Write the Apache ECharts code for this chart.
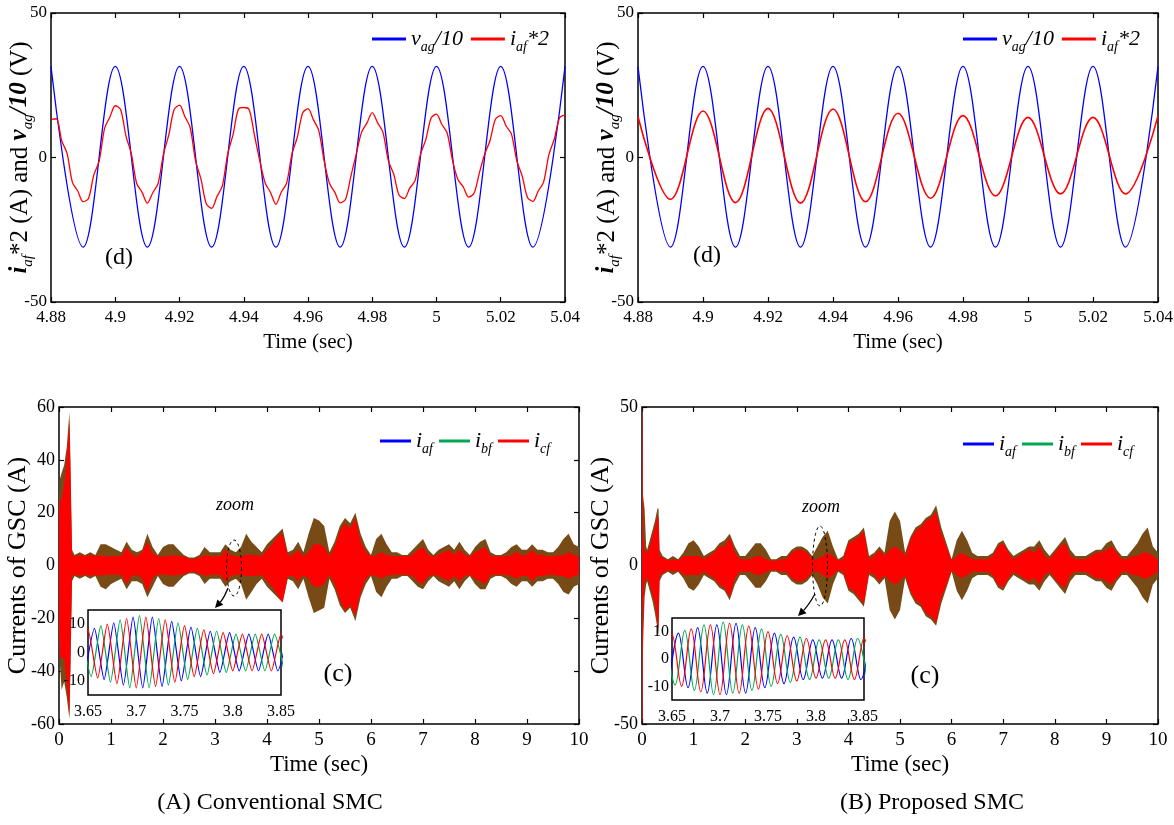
<!DOCTYPE html>
<html>
<head>
<meta charset="utf-8">
<title>GSC currents: conventional vs proposed SMC</title>
<script src="https://cdn.jsdelivr.net/npm/echarts@6/dist/echarts.min.js"></script>
<style>
  html, body { margin: 0; padding: 0; background: #fff; }
  #chart { width: 1174px; height: 825px; }
</style>
</head>
<body>
<div id="chart"></div>
<script>
// ---------------- data ----------------
// (d) panels: grid voltage / 10 and filter current * 2, 4.88 s to 5.04 s (50 Hz).
// Voltage and the smooth current are stored as successive peaks/troughs (every half period).
const topStart = 4.88;
const halfPeriod = 0.01;
const vagConv = [31.5, -31, 31.5, -31, 31.5, -31, 31.5, -31, 31.5, -31, 31.5, -31, 31.5, -31, 31.5, -31, 31.5];
const vagProp = [31.5, -31, 31.5, -31, 31.5, -31, 31.5, -31, 31.5, -31, 31.5, -31, 31.5, -31, 31.5, -31, 31.5];
const iafProp = [14.1, -14.5, 16.1, -15.6, 17.0, -15.8, 16.8, -15.3, 15.3, -14.1, 14.5, -13.3, 13.9, -12.6, 13.9, -12.6, 14.4];
// Conventional SMC current, read every 1/12 of a period (keeps the switching ripple)
const iafConvStep = 0.02 / 12;
const iafConv = [
  13.2, 13.4, 5.8, 1.4, -8.6, -11.6,
  -15.3, -14.2, -6.0, -1.2, 10.0, 14.0,
  17.9, 16.6, 7.5, 1.3, -9.0, -12.0,
  -15.8, -12.2, -9.0, 1.1, 7.8, 16.6,
  18.1, 14.2, 10.3, -1.2, -7.4, -16.0,
  -17.6, -13.5, -9.8, 1.2, 7.9, 16.7,
  17.3, 16.6, 7.7, -1.1, -8.8, -12.1,
  -16.2, -12.0, -8.9, 1.2, 7.0, 15.4,
  16.9, 13.1, 9.4, -1.0, -8.9, -12.0,
  -15.7, -14.5, -6.5, 1.1, 8.7, 11.9,
  15.5, 12.0, 8.7, -1.1, -5.7, -13.0,
  -14.2, -10.6, -8.0, 1.0, 6.2, 13.7,
  15.0, 11.4, 8.4, -1.1, -7.6, -10.2,
  -13.7, -12.4, -5.4, 1.1, 5.9, 13.2,
  14.5, 10.9, 8.1, -1.1, -6.4, -13.8,
  -15.2, -11.6, -8.5, 1.0, 6.4, 13.8,
  14.7
];

// (c) panels: three-phase GSC currents over 0–10 s, drawn as envelopes.
// Outer envelope (all phases) and the red-dominated inner envelope.
const envTimesConv = [0, 0.02, 0.05, 0.1, 0.15, 0.2, 0.22, 0.25,
  0.3, 0.4, 0.5, 0.6, 0.7, 0.8, 0.9, 1.0, 1.1, 1.2,
  1.3, 1.4, 1.5, 1.6, 1.7, 1.8, 1.9, 2.0, 2.1, 2.2,
  2.3, 2.4, 2.5, 2.6, 2.7, 2.8, 2.9, 3.0, 3.1, 3.2,
  3.3, 3.4, 3.5, 3.6, 3.7, 3.8, 3.9, 4.0, 4.1, 4.2,
  4.3, 4.4, 4.5, 4.6, 4.7, 4.8, 4.9, 5.0, 5.1, 5.2,
  5.3, 5.4, 5.5, 5.6, 5.7, 5.8, 5.9, 6.0, 6.1, 6.2,
  6.3, 6.4, 6.5, 6.6, 6.7, 6.8, 6.9, 7.0, 7.1, 7.2,
  7.3, 7.4, 7.5, 7.6, 7.7, 7.8, 7.9, 8.0, 8.1, 8.2,
  8.3, 8.4, 8.5, 8.6, 8.7, 8.8, 8.9, 9.0, 9.1, 9.2,
  9.3, 9.4, 9.5, 9.6, 9.7, 9.8, 9.9, 10.0];
const outerUpConv = [25, 33, 35, 38, 45, 58, 40, 6,
  4, 5, 4, 5, 4, 8, 8, 7, 6, 5,
  9, 6, 5, 6, 12, 7, 4, 7, 8, 8,
  6, 4, 3, 3, 4, 7, 5, 5, 5, 8,
  6, 5, 7, 12, 9, 7, 5, 8, 10, 12,
  14, 5, 6, 9, 5, 12, 18, 17, 15, 5,
  9, 15, 18, 16, 20, 12, 7, 4, 10, 12,
  8, 5, 5, 4, 4, 6, 8, 10, 6, 4,
  6, 7, 8, 6, 9, 6, 4, 7, 9, 10,
  5, 4, 4, 5, 7, 8, 6, 6, 8, 6,
  6, 5, 5, 7, 10, 12, 8, 7];
const outerLowConv = [-25, -38, -47, -44, -50, -58, -40, -6,
  -4, -5, -4, -5, -4, -8, -9, -7, -6, -5,
  -9, -6, -6, -7, -12, -8, -4, -7, -8, -8,
  -6, -4, -3, -3, -4, -7, -5, -5, -5, -8,
  -6, -5, -7, -13, -10, -7, -5, -8, -10, -12,
  -14, -5, -6, -9, -5, -12, -18, -17, -16, -5,
  -9, -15, -18, -16, -21, -12, -7, -4, -10, -12,
  -8, -5, -5, -4, -4, -6, -8, -9, -6, -4,
  -6, -7, -8, -6, -9, -6, -4, -7, -9, -9,
  -5, -4, -4, -5, -7, -8, -6, -6, -8, -6,
  -6, -5, -5, -7, -10, -11, -8, -7];
const innerUpConv = [20, 25, 25, 30, 40, 55, 35, 4,
  3.5, 4, 3.5, 4, 3.5, 4, 3.5, 3.5, 3.5, 3.5,
  7, 4, 3.5, 5, 9, 4.5, 3.5, 3.5, 3.5, 4,
  3.5, 3.5, 2.5, 2.5, 3, 4, 3.5, 3.5, 3.5, 6,
  4, 3.5, 3.5, 4, 4, 4, 3.5, 6, 8, 11,
  12, 4, 4, 6, 3.5, 5, 8, 8, 7, 3.5,
  7, 13, 16, 14, 18, 9, 5, 3.5, 4, 5,
  4, 3.5, 3.5, 3.5, 3.5, 4, 6, 7, 4, 3.5,
  4, 5, 6, 4, 6, 4, 3.5, 5, 6, 7,
  3.5, 3.5, 3.5, 3.5, 4, 5, 4, 4, 6, 4,
  4, 3.5, 3.5, 4, 4, 5, 4, 3.5];
const innerLowConv = [-20, -35, -35, -35, -45, -57, -35, -4,
  -3.5, -4, -3.5, -4, -3.5, -4, -3.5, -3.5, -3.5, -3.5,
  -7, -4, -3.5, -5, -10, -4.5, -3.5, -3.5, -3.5, -4,
  -3.5, -3.5, -2.5, -2.5, -3, -4, -3.5, -3.5, -3.5, -6,
  -4, -3.5, -3.5, -4, -4, -4, -3.5, -6, -8, -11,
  -14, -4, -4, -6, -3.5, -5, -8, -8, -7, -3.5,
  -7, -13, -17, -15, -19, -10, -5, -3.5, -4, -5,
  -4, -3.5, -3.5, -3.5, -3.5, -4, -6, -7, -4, -3.5,
  -4, -5, -6, -4, -6, -4, -3.5, -5, -6, -7,
  -3.5, -3.5, -3.5, -3.5, -4, -5, -4, -4, -6, -4,
  -4, -3.5, -3.5, -4, -4, -5, -4, -3.5];

const envTimesProp = [0, 0.01, 0.02, 0.05, 0.08, 0.1, 0.15, 0.2, 0.25, 0.3, 0.32, 0.34,
  0.4, 0.5, 0.6, 0.7, 0.8, 0.9, 1.0, 1.1, 1.2, 1.3,
  1.4, 1.5, 1.6, 1.7, 1.8, 1.9, 2.0, 2.1, 2.2, 2.3,
  2.4, 2.5, 2.6, 2.7, 2.8, 2.9, 3.0, 3.1, 3.2, 3.3,
  3.4, 3.5, 3.6, 3.7, 3.8, 3.9, 4.0, 4.1, 4.2, 4.3,
  4.4, 4.5, 4.6, 4.7, 4.8, 4.9, 5.0, 5.1, 5.2, 5.3,
  5.4, 5.5, 5.6, 5.7, 5.8, 5.9, 6.0, 6.1, 6.2, 6.3,
  6.4, 6.5, 6.6, 6.7, 6.8, 6.9, 7.0, 7.1, 7.2, 7.3,
  7.4, 7.5, 7.6, 7.7, 7.8, 7.9, 8.0, 8.1, 8.2, 8.3,
  8.4, 8.5, 8.6, 8.7, 8.8, 8.9, 9.0, 9.1, 9.2, 9.3,
  9.4, 9.5, 9.6, 9.7, 9.8, 9.9, 10.0];
const outerUpProp = [50, 48, 22, 18, 6, 5, 8, 11, 14, 18, 18, 5,
  3, 2, 3, 2, 4, 7, 8, 6, 3, 4,
  5, 7, 8, 10, 6, 3, 3, 5, 7, 7,
  5, 2, 2, 3, 3, 5, 6, 6, 5, 3,
  6, 9, 11, 6, 2, 3, 8, 9, 10, 12,
  3, 4, 6, 4, 14, 17, 14, 4, 9, 12,
  13, 15, 16, 19, 12, 7, 2, 8, 11, 8,
  4, 3, 3, 3, 4, 7, 8, 5, 3, 4,
  5, 6, 6, 8, 5, 3, 5, 7, 9, 5,
  3, 3, 3, 4, 5, 5, 7, 8, 5, 3,
  3, 5, 7, 10, 12, 6, 4];
const outerLowProp = [-50, -48, -25, -10, -6, -5, -8, -11, -15, -20, -22, -5,
  -3, -2, -3, -2, -4, -7, -8, -6, -3, -4,
  -5, -7, -8, -11, -6, -3, -3, -5, -7, -7,
  -5, -2, -2, -3, -3, -5, -6, -6, -5, -3,
  -6, -10, -12, -6, -2, -3, -8, -9, -11, -13,
  -3, -4, -6, -4, -14, -17, -14, -4, -9, -12,
  -13, -16, -17, -19, -12, -7, -2, -8, -11, -8,
  -4, -3, -3, -3, -4, -7, -8, -5, -3, -4,
  -5, -6, -6, -8, -5, -3, -5, -7, -9, -5,
  -3, -3, -3, -4, -5, -5, -7, -8, -5, -3,
  -3, -5, -7, -10, -12, -6, -4];
const innerUpProp = [50, 45, 10, 5, 4, 4, 6, 9, 12, 16, 15, 3,
  2.5, 1.5, 2, 1.5, 3, 3, 3, 3, 2, 3,
  4, 6, 6, 9, 4, 2, 2, 2, 3, 3,
  2, 1.5, 1.5, 2, 2, 4, 5, 5, 4, 2,
  2, 3, 4, 3, 1.5, 2, 7, 8, 9, 11,
  2, 3, 5, 3, 5, 6, 5, 3, 8, 11,
  12, 14, 15, 17, 10, 6, 1.5, 3, 4, 3,
  2, 2, 2, 2, 3, 6, 7, 4, 2, 3,
  4, 5, 4, 6, 3, 2, 4, 6, 7, 3,
  2, 2, 2, 3, 4, 4, 5, 6, 4, 2,
  2, 3, 3, 4, 4, 3, 2];
const innerLowProp = [-50, -48, -15, -5, -4, -4, -6, -9, -12, -18, -20, -3,
  -2.5, -1.5, -2, -1.5, -3, -3, -3, -3, -2, -3,
  -4, -6, -7, -10, -4, -2, -2, -2, -3, -3,
  -2, -1.5, -1.5, -2, -2, -4, -5, -5, -4, -2,
  -2, -3, -4, -3, -1.5, -2, -7, -8, -10, -12,
  -2, -3, -5, -3, -5, -6, -5, -3, -8, -11,
  -12, -15, -16, -18, -10, -6, -1.5, -3, -4, -3,
  -2, -2, -2, -2, -3, -6, -7, -4, -2, -3,
  -4, -5, -4, -6, -3, -2, -4, -6, -7, -3,
  -2, -2, -2, -3, -4, -4, -5, -6, -4, -2,
  -2, -3, -3, -4, -4, -3, -2];

// Zoomed window 3.65–3.85 s: per-phase peaks/troughs, one every half period
const zoomStartA = 3.6467, zoomStartB = 3.6433, zoomStartC = 3.64;
const iafZoomConv = [-8, 8.5, -9.5, 10.5, -11.5, 12.5, -12.5, 12.5, -12, 11, -10, 9, -8.5, 7.5, -7, 7, -6.5, 6.5, -6.5, 6.5, -6.5, 6.5];
const ibfZoomConv = [8, -8.5, 9.5, -10.5, 11.5, -12.5, 13, -12.5, 12, -11.5, 10.5, -9.5, 8.5, -8, 7.5, -7, 6.5, -6.5, 6.5, -6.5, 6.5, -6.5];
const icfZoomConv = [-7.5, 8, -9, 10, -11, 12, -12.5, 12.5, -12, 11.5, -10.5, 9.5, -8.5, 8, -7.5, 7, -6.5, 6.5, -6.5, 6.5, -6.5, 6.5, -6.5];
const iafZoomProp = [-9, 9.5, -10.5, 11.5, -12.5, 12.5, -13, 13, -12.5, 11.5, -10.5, 9.5, -9, 8, -7.5, 7, -7, 7, -7, 7.5, -7.5, 7.5];
const ibfZoomProp = [8.5, -9.5, 10.5, -11.5, 12.5, -13, 13.5, -12.5, 12.5, -11.5, 11, -10, 9, -8.5, 8, -7.5, 7, -7, 7, -7.5, 7.5, -7.5];
const icfZoomProp = [-8.5, 9, -10, 11, -12, 12.5, -13, 13, -12.5, 12, -11, 10, -9, 8.5, -8, 7.5, -7, 7, -7, 7, -7.5, 7.5, -7.5];

// ---------------- style ----------------
const SERIF = '"Liberation Serif", "Times New Roman", serif';
const BLUE = '#0000ff', RED = '#ff0000', GREEN = '#00a651', BROWN = '#784a16';

// pairs a value list with evenly spaced times
function timed(start, step, values) {
  return values.map((v, i) => [Math.round((start + i * step) * 1e6) / 1e6, v]);
}
const fmt2 = v => String(+(+v).toFixed(2));
const hiddenLine = { show: false, onZero: false };

function xPair(grid, min, max, interval, fontSize, name, nameSize, nameGap) {
  const tick = { inside: true, length: 5, lineStyle: { color: '#000', width: 1.2 } };
  return [{
    gridIndex: grid, type: 'value', min, max, interval, position: 'bottom',
    axisLine: hiddenLine, splitLine: { show: false }, axisTick: tick,
    axisLabel: { color: '#000', fontFamily: SERIF, fontSize, margin: 7, formatter: fmt2 },
    name, nameLocation: 'middle', nameGap, nameMoveOverlap: false,
    nameTextStyle: { color: '#000', fontFamily: SERIF, fontSize: nameSize }
  }, {
    gridIndex: grid, type: 'value', min, max, interval, position: 'top',
    axisLine: hiddenLine, splitLine: { show: false }, axisTick: tick,
    axisLabel: { show: false }
  }];
}
function yPair(grid, min, max, interval, fontSize, name, nameGap, nameStyle) {
  const tick = { inside: true, length: 5, lineStyle: { color: '#000', width: 1.2 } };
  return [{
    gridIndex: grid, type: 'value', min, max, interval, position: 'left',
    axisLine: hiddenLine, splitLine: { show: false }, axisTick: tick,
    axisLabel: { color: '#000', fontFamily: SERIF, fontSize, margin: 4 },
    name, nameLocation: 'middle', nameGap, nameMoveOverlap: false, nameTextStyle: nameStyle
  }, {
    gridIndex: grid, type: 'value', min, max, interval, position: 'right',
    axisLine: hiddenLine, splitLine: { show: false }, axisTick: tick,
    axisLabel: { show: false }
  }];
}

// filled envelope between an upper and a lower trace
function band(xi, yi, times, up, low, color, z) {
  return {
    type: 'custom', xAxisIndex: xi, yAxisIndex: yi, z, silent: true, clip: true,
    data: times.map((t, i) => [t, up[i], low[i]]),
    encode: { x: 0, y: [1, 2] },
    renderItem(params, api) {
      if (params.dataIndex !== 0) return null;
      const pts = [];
      for (let i = 0; i < times.length; i++) pts.push(api.coord([times[i], up[i]]));
      for (let i = times.length - 1; i >= 0; i--) pts.push(api.coord([times[i], low[i]]));
      return { type: 'polygon', shape: { points: pts }, style: { fill: color } };
    }
  };
}
function wave(name, xi, yi, data, color, smooth, z, width) {
  return {
    name, type: 'line', xAxisIndex: xi, yAxisIndex: yi, data, smooth,
    showSymbol: false, symbol: 'none', silent: true, z, clip: true,
    lineStyle: { color, width: width || 1.3 }, itemStyle: { color }
  };
}

const grids = [
  { left: 51, top: 13, width: 514, height: 289 },    // (A) d
  { left: 638, top: 13, width: 520, height: 289 },   // (B) d
  { left: 59, top: 407, width: 520, height: 317 },   // (A) c
  { left: 642, top: 407, width: 516, height: 317 },  // (B) c
].map(g => Object.assign({ show: true, borderColor: '#000', borderWidth: 1.5, backgroundColor: 'transparent', outerBoundsMode: 'none' }, g));
grids.push({ left: 88, top: 610, width: 193, height: 85, show: true, borderColor: '#000', borderWidth: 1.5, backgroundColor: '#fff', z: 10, outerBoundsMode: 'none' });
grids.push({ left: 672, top: 618, width: 192, height: 82, show: true, borderColor: '#000', borderWidth: 1.5, backgroundColor: '#fff', z: 10, outerBoundsMode: 'none' });

const topNameStyle = {
  color: '#000', fontFamily: SERIF, fontSize: 25,
  rich: {
    i: { fontFamily: SERIF, fontSize: 25, fontStyle: 'italic', fontWeight: 'bold', lineHeight: 32 },
    s: { fontFamily: SERIF, fontSize: 15, fontStyle: 'italic', verticalAlign: 'bottom' },
    n: { fontFamily: SERIF, fontSize: 25, lineHeight: 32 }
  }
};
const topName = '{i|i}{s|af}{n|*2 (A) and }{i|v}{s|ag}{i|/10}{n| (V)}';
const bottomNameStyle = { color: '#000', fontFamily: SERIF, fontSize: 26, lineHeight: 26 };

function zoomAxes(grid) {
  return {
    x: {
      gridIndex: grid, type: 'value', min: 3.65, max: 3.85, interval: 0.05, z: 12,
      axisLine: hiddenLine, splitLine: { show: false }, axisTick: { show: false },
      axisLabel: { color: '#000', fontFamily: SERIF, fontSize: 16, margin: 9, formatter: fmt2 }
    },
    y: {
      gridIndex: grid, type: 'value', min: -15, max: 15, interval: 5, z: 12,
      axisLine: hiddenLine, splitLine: { show: false }, axisTick: { show: false },
      axisLabel: { color: '#000', fontFamily: SERIF, fontSize: 16, margin: 3,
        formatter: v => (Math.round(v) % 10 === 0 ? String(Math.round(v)) : '') }
    }
  };
}
const zA = zoomAxes(4), zB = zoomAxes(5);

const xAxis = [
  ...xPair(0, 4.88, 5.04, 0.02, 17, 'Time (sec)', 21, 30),
  ...xPair(1, 4.88, 5.04, 0.02, 17, 'Time (sec)', 21, 30),
  ...xPair(2, 0, 10, 1, 19, 'Time (sec)', 23, 29),
  ...xPair(3, 0, 10, 1, 19, 'Time (sec)', 23, 29),
  zA.x, zB.x
];
const yAxis = [
  ...yPair(0, -50, 50, 50, 17, topName, 15, topNameStyle),
  ...yPair(1, -50, 50, 50, 17, topName, 15, topNameStyle),
  ...yPair(2, -60, 60, 20, 18, 'Currents of GSC (A)', 28, bottomNameStyle),
  ...yPair(3, -50, 50, 50, 18, 'Currents of GSC (A)', 28, bottomNameStyle),
  zA.y, zB.y
];

const series = [
  wave('v_ag/10', 0, 0, timed(topStart, halfPeriod, vagConv), BLUE, 0.36, 3),
  wave('i_af*2', 0, 0, timed(topStart, iafConvStep, iafConv), RED, 0.3, 4),
  wave('v_ag/10', 2, 2, timed(topStart, halfPeriod, vagProp), BLUE, 0.36, 3),
  wave('i_af*2', 2, 2, timed(topStart, halfPeriod, iafProp), RED, 0.36, 4, 1.6),

  band(4, 4, envTimesConv, outerUpConv, outerLowConv, BROWN, 2),
  band(4, 4, envTimesConv, innerUpConv, innerLowConv, RED, 3),
  band(6, 6, envTimesProp, outerUpProp, outerLowProp, BROWN, 2),
  band(6, 6, envTimesProp, innerUpProp, innerLowProp, RED, 3),

  wave('i_af', 8, 8, timed(zoomStartA, halfPeriod, iafZoomConv), BLUE, 0.2, 11, 1.2),
  wave('i_bf', 8, 8, timed(zoomStartB, halfPeriod, ibfZoomConv), GREEN, 0.2, 11, 1.2),
  wave('i_cf', 8, 8, timed(zoomStartC, halfPeriod, icfZoomConv), RED, 0.2, 11, 1.2),
  wave('i_af', 9, 9, timed(zoomStartA, halfPeriod, iafZoomProp), BLUE, 0.36, 11, 1.2),
  wave('i_bf', 9, 9, timed(zoomStartB, halfPeriod, ibfZoomProp), GREEN, 0.36, 11, 1.2),
  wave('i_cf', 9, 9, timed(zoomStartC, halfPeriod, icfZoomProp), RED, 0.36, 11, 1.2)
];

const legendRich = {
  m: { fontFamily: SERIF, fontSize: 22, fontStyle: 'italic', lineHeight: 30, color: '#000' },
  s: { fontFamily: SERIF, fontSize: 14, fontStyle: 'italic', verticalAlign: 'bottom', color: '#000' }
};
const legendText = {
  'v_ag/10': '{m|v}{s|ag}{m|/10}',
  'i_af*2': '{m|i}{s|af}{m|*2}',
  'i_af': '{m|i}{s|af}',
  'i_bf': '{m|i}{s|bf}',
  'i_cf': '{m|i}{s|cf}'
};
function legend(left, top, names, itemWidth, gap) {
  return {
    left, top, orient: 'horizontal', icon: 'rect', itemWidth, itemHeight: 3, itemGap: gap,
    padding: 0, selectedMode: false, data: names,
    formatter: n => legendText[n],
    textStyle: { fontFamily: SERIF, fontSize: 22, fontStyle: 'italic', color: '#000', rich: legendRich }
  };
}

// decorations: panel tags, zoom marker, captions
function label(x, y, text, size, style) {
  return {
    type: 'text', x, y, z: 20, silent: true,
    style: { text, fill: '#000', fontFamily: SERIF, fontSize: size, fontStyle: style || 'normal',
      align: 'center', verticalAlign: 'middle', textAlign: 'center', textVerticalAlign: 'middle' }
  };
}
function dashedEllipse(cx, cy, rx, ry) {
  const pts = [];
  for (let k = 0; k < 48; k++) {
    const a = (k / 48) * Math.PI * 2;
    pts.push([cx + rx * Math.cos(a), cy + ry * Math.sin(a)]);
  }
  return { type: 'polygon', z: 20, silent: true, shape: { points: pts },
    style: { fill: 'none', stroke: '#000', lineWidth: 1, lineDash: [3, 3] } };
}
function arrow(x1, y1, cx, cy, x2, y2) {
  const dx = x2 - cx, dy = y2 - cy, len = Math.hypot(dx, dy);
  const ux = dx / len, uy = dy / len, px = -uy, py = ux;
  const bx = x2 - ux * 8, by = y2 - uy * 8;
  return [
    { type: 'bezierCurve', z: 20, silent: true,
      shape: { x1, y1, x2: bx, y2: by, cpx1: cx, cpy1: cy },
      style: { stroke: '#000', lineWidth: 1.3, fill: 'none' } },
    { type: 'polygon', z: 20, silent: true,
      shape: { points: [[x2, y2], [bx + px * 4, by + py * 4], [bx - px * 4, by - py * 4]] },
      style: { fill: '#000' } }
  ];
}

const graphic = [
  label(119, 258, '(d)', 24), label(707, 256, '(d)', 24),
  label(338, 674, '(c)', 26), label(925, 676, '(c)', 26),
  label(235, 505, 'zoom', 18, 'italic'), label(821, 507, 'zoom', 18, 'italic'),
  dashedEllipse(234, 568, 7.5, 28), dashedEllipse(820, 566, 7.5, 40),
  ...arrow(228, 588, 224, 598, 215, 608),
  ...arrow(815, 594, 808, 606, 798, 616),
  label(270, 803, '(A) Conventional SMC', 24), label(932, 803, '(B) Proposed SMC', 24)
];

const chart = echarts.init(document.getElementById('chart'), null, { renderer: 'canvas' });
chart.setOption({
  animation: false,
  backgroundColor: '#fff',
  grid: grids,
  xAxis, yAxis, series,
  legend: [
    legend(372, 28, ['v_ag/10', 'i_af*2'], 34, 8),
    legend(963, 28, ['v_ag/10', 'i_af*2'], 34, 8),
    legend(380, 430, ['i_af', 'i_bf', 'i_cf'], 31, 6),
    legend(963, 433, ['i_af', 'i_bf', 'i_cf'], 31, 6)
  ],
  graphic
});
</script>
</body>
</html>
